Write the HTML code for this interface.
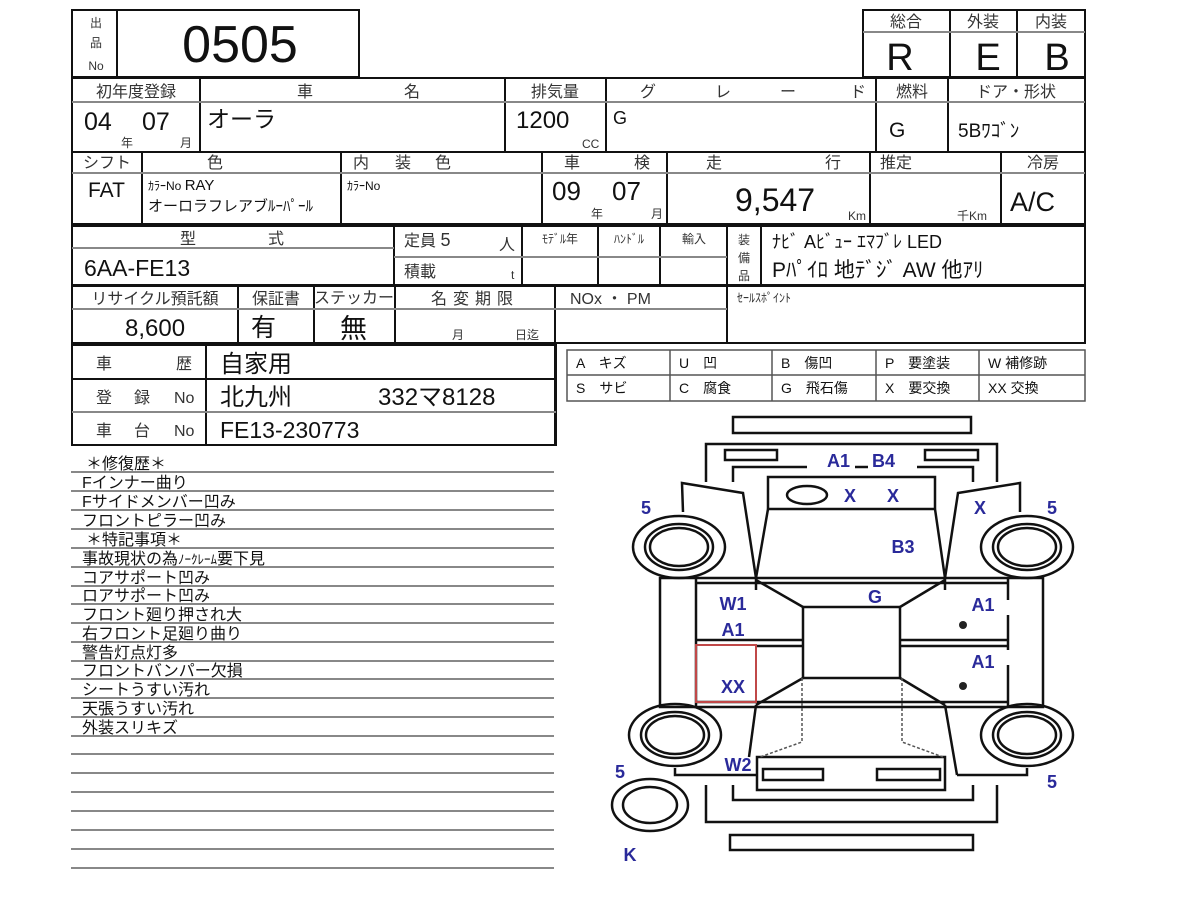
<!DOCTYPE html>
<html><head><meta charset="utf-8"><style>
html,body{margin:0;padding:0;background:#fff;}
svg{display:block;}
text{font-family:"Liberation Sans","Noto Sans CJK JP",sans-serif;fill:#111;}
.h{font-size:16px;fill:#333;}
.s{font-size:12px;fill:#333;}
.bl{fill:#2a2a9a;font-weight:bold;font-size:18px;}
</style></head><body>
<svg width="1200" height="900" viewBox="0 0 1200 900" xmlns="http://www.w3.org/2000/svg">
<g stroke="#111" stroke-width="2" fill="none">
<rect x="72" y="10" width="287" height="67"/>
<line x1="117" y1="10" x2="117" y2="77"/>
<rect x="863" y="10" width="222" height="67"/>
<line x1="950" y1="10" x2="950" y2="77"/>
<line x1="1017" y1="10" x2="1017" y2="77"/>
<rect x="72" y="78" width="1013" height="146"/>
<line x1="72" y1="152" x2="1085" y2="152"/>
<line x1="200" y1="78" x2="200" y2="152"/>
<line x1="505" y1="78" x2="505" y2="152"/>
<line x1="606" y1="78" x2="606" y2="152"/>
<line x1="876" y1="78" x2="876" y2="152"/>
<line x1="948" y1="78" x2="948" y2="152"/>
<line x1="142" y1="152" x2="142" y2="224"/>
<line x1="341" y1="152" x2="341" y2="224"/>
<line x1="542" y1="152" x2="542" y2="224"/>
<line x1="667" y1="152" x2="667" y2="224"/>
<line x1="870" y1="152" x2="870" y2="224"/>
<line x1="1001" y1="152" x2="1001" y2="224"/>
<rect x="72" y="226" width="1013" height="59"/>
<line x1="394" y1="226" x2="394" y2="285"/>
<line x1="522" y1="226" x2="522" y2="285"/>
<line x1="598" y1="226" x2="598" y2="285"/>
<line x1="660" y1="226" x2="660" y2="285"/>
<line x1="727" y1="226" x2="727" y2="285"/>
<line x1="761" y1="226" x2="761" y2="285"/>
<rect x="72" y="286" width="1013" height="57"/>
<line x1="238" y1="286" x2="238" y2="343"/>
<line x1="314" y1="286" x2="314" y2="343"/>
<line x1="395" y1="286" x2="395" y2="343"/>
<line x1="555" y1="286" x2="555" y2="445"/>
<line x1="727" y1="286" x2="727" y2="343"/>
<rect x="72" y="345" width="484" height="100"/>
<line x1="72" y1="379" x2="556" y2="379"/>
<line x1="206" y1="345" x2="206" y2="445"/>
</g>
<g stroke="#888" stroke-width="2">
<line x1="863" y1="32" x2="1085" y2="32"/>
<line x1="72" y1="102" x2="1085" y2="102"/>
<line x1="72" y1="173" x2="1085" y2="173"/>
<line x1="72" y1="248" x2="394" y2="248"/>
<line x1="394" y1="257" x2="727" y2="257"/>
<line x1="72" y1="309" x2="727" y2="309"/>
<line x1="72" y1="412" x2="556" y2="412"/>
</g>
<g stroke="#555" stroke-width="1.5" fill="none">
<rect x="567" y="350" width="518" height="51"/>
<line x1="567" y1="375" x2="1085" y2="375"/>
<line x1="670" y1="350" x2="670" y2="401"/>
<line x1="772" y1="350" x2="772" y2="401"/>
<line x1="876" y1="350" x2="876" y2="401"/>
<line x1="979" y1="350" x2="979" y2="401"/>
</g>
<g stroke="#888" stroke-width="2">
<line x1="71" y1="472" x2="554" y2="472"/><line x1="71" y1="491" x2="554" y2="491"/>
<line x1="71" y1="510" x2="554" y2="510"/><line x1="71" y1="529" x2="554" y2="529"/>
<line x1="71" y1="548" x2="554" y2="548"/><line x1="71" y1="567" x2="554" y2="567"/>
<line x1="71" y1="586" x2="554" y2="586"/><line x1="71" y1="604" x2="554" y2="604"/>
<line x1="71" y1="623" x2="554" y2="623"/><line x1="71" y1="642" x2="554" y2="642"/>
<line x1="71" y1="661" x2="554" y2="661"/><line x1="71" y1="679" x2="554" y2="679"/>
<line x1="71" y1="698" x2="554" y2="698"/><line x1="71" y1="717" x2="554" y2="717"/>
<line x1="71" y1="736" x2="554" y2="736"/><line x1="71" y1="754" x2="554" y2="754"/>
<line x1="71" y1="773" x2="554" y2="773"/><line x1="71" y1="792" x2="554" y2="792"/>
<line x1="71" y1="811" x2="554" y2="811"/><line x1="71" y1="830" x2="554" y2="830"/>
<line x1="71" y1="849" x2="554" y2="849"/><line x1="71" y1="868" x2="554" y2="868"/>
</g>

<text x="96" y="27" class="s" text-anchor="middle" font-size="13">出</text>
<text x="96" y="47" class="s" text-anchor="middle" font-size="13">品</text>
<text x="96" y="70" class="s" text-anchor="middle" font-size="13">No</text>
<text x="240" y="62" font-size="52" text-anchor="middle">0505</text>
<text x="906" y="27" class="h" font-size="14" text-anchor="middle">総合</text>
<text x="983" y="27" class="h" font-size="14" text-anchor="middle">外装</text>
<text x="1051" y="27" class="h" font-size="14" text-anchor="middle">内装</text>
<text x="900" y="70" font-size="38" text-anchor="middle">R</text>
<text x="988" y="70" font-size="38" text-anchor="middle">E</text>
<text x="1057" y="70" font-size="38" text-anchor="middle">B</text>

<text x="136" y="97" class="h" text-anchor="middle" font-size="17">初年度登録</text>
<text x="305" y="97" class="h" text-anchor="middle">車</text>
<text x="412" y="97" class="h" text-anchor="middle">名</text>
<text x="555" y="97" class="h" text-anchor="middle">排気量</text>
<text x="640" y="97" class="h">グ</text><text x="715" y="97" class="h">レ</text><text x="780" y="97" class="h">ー</text><text x="850" y="97" class="h">ド</text>
<text x="912" y="97" class="h" text-anchor="middle">燃料</text>
<text x="1016" y="97" class="h" text-anchor="middle" font-size="15">ドア・形状</text>
<text x="84" y="130" font-size="25">04</text>
<text x="121" y="147" class="s" font-size="10">年</text>
<text x="142" y="130" font-size="25">07</text>
<text x="180" y="147" class="s" font-size="10">月</text>
<text x="207" y="127" font-size="23">オーラ</text>
<text x="516" y="128" font-size="24">1200</text>
<text x="582" y="148" class="s" font-size="11">CC</text>
<text x="613" y="124" font-size="18">G</text>
<text x="889" y="137" font-size="21">G</text>
<text x="958" y="137" font-size="19">5Bﾜｺﾞﾝ</text>

<text x="107" y="168" class="h" text-anchor="middle" font-size="15">シフト</text>
<text x="215" y="168" class="h" text-anchor="middle">色</text>
<text x="353" y="168" class="h">内</text><text x="395" y="168" class="h">装</text><text x="435" y="168" class="h">色</text>
<text x="572" y="168" class="h" text-anchor="middle">車</text><text x="642" y="168" class="h" text-anchor="middle">検</text>
<text x="714" y="168" class="h" text-anchor="middle">走</text><text x="833" y="168" class="h" text-anchor="middle">行</text>
<text x="880" y="168" class="h">推定</text>
<text x="1043" y="168" class="h" text-anchor="middle">冷房</text>
<text x="88" y="197" font-size="21">FAT</text>
<text x="148" y="190" font-size="12">ｶﾗｰNo <tspan font-size="15">RAY</tspan></text>
<text x="148" y="211" font-size="15">オーロラフレアブ<tspan>ﾙｰﾊﾟｰﾙ</tspan></text>
<text x="347" y="190" font-size="12">ｶﾗｰNo</text>
<text x="552" y="200" font-size="26">09</text>
<text x="591" y="218" class="s" font-size="10">年</text>
<text x="612" y="200" font-size="26">07</text>
<text x="651" y="218" class="s" font-size="10">月</text>
<text x="735" y="211" font-size="32">9,547</text>
<text x="848" y="220" class="s" font-size="10">Km</text>
<text x="957" y="220" class="s" font-size="10">千Km</text>
<text x="1010" y="211" font-size="27">A/C</text>

<text x="180" y="244" class="h">型</text><text x="268" y="244" class="h">式</text>
<text x="84" y="276" font-size="23">6AA-FE13</text>
<text x="404" y="246" class="h" font-size="15">定員 <tspan font-size="18">5</tspan></text>
<text x="499" y="250" class="h" font-size="14">人</text>
<text x="404" y="277" class="h" font-size="13">積載</text>
<text x="511" y="279" class="s" font-size="10">t</text>
<text x="560" y="243" class="s" text-anchor="middle" font-size="12">ﾓﾃﾞﾙ年</text>
<text x="629" y="243" class="s" text-anchor="middle" font-size="12">ﾊﾝﾄﾞﾙ</text>
<text x="694" y="243" class="s" text-anchor="middle" font-size="14">輸入</text>
<text x="744" y="244" class="s" text-anchor="middle" font-size="13">装</text>
<text x="744" y="262" class="s" text-anchor="middle" font-size="13">備</text>
<text x="744" y="280" class="s" text-anchor="middle" font-size="13">品</text>
<text x="772" y="248" font-size="18">ﾅﾋﾞ Aﾋﾞｭｰ ｴﾏﾌﾞﾚ LED</text>
<text x="772" y="277" font-size="21">Pﾊﾟｲﾛ 地ﾃﾞｼﾞ AW 他ｱﾘ</text>

<text x="155" y="304" class="h" text-anchor="middle" font-size="14">リサイクル預託額</text>
<text x="276" y="304" class="h" text-anchor="middle" font-size="14">保証書</text>
<text x="354" y="303" class="h" text-anchor="middle" font-size="11">ステッカー</text>
<text x="475" y="304" class="h" text-anchor="middle" font-size="15" letter-spacing="6">名変期限</text>
<text x="570" y="304" class="h" font-size="14">NOx ・ PM</text>
<text x="737" y="302" class="s" font-size="11">ｾｰﾙｽﾎﾟｲﾝﾄ</text>
<text x="125" y="336" font-size="24">8,600</text>
<text x="251" y="336" font-size="25">有</text>
<text x="340" y="338" font-size="27">無</text>
<text x="452" y="339" class="s" font-size="11">月</text>
<text x="515" y="339" class="s" font-size="11">日迄</text>

<text x="96" y="369" class="h">車</text><text x="176" y="369" class="h">歴</text>
<text x="220" y="372" font-size="24">自家用</text>
<text x="96" y="403" class="h">登</text><text x="134" y="403" class="h">録</text><text x="174" y="403" class="h" font-size="13">No</text>
<text x="220" y="405" font-size="24">北九州</text>
<text x="378" y="405" font-size="24">332マ8128</text>
<text x="96" y="436" class="h">車</text><text x="134" y="436" class="h">台</text><text x="174" y="436" class="h" font-size="13">No</text>
<text x="220" y="438" font-size="23">FE13-230773</text>

<g font-size="14">
<text x="576" y="368">A　キズ</text><text x="679" y="368">U　凹</text><text x="781" y="368">B　傷凹</text><text x="885" y="368">P　要塗装</text><text x="988" y="368">W 補修跡</text>
<text x="576" y="393">S　サビ</text><text x="679" y="393">C　腐食</text><text x="781" y="393">G　飛石傷</text><text x="885" y="393">X　要交換</text><text x="988" y="393">XX 交換</text>
</g>

<g font-size="16" fill="#222">
<text x="86" y="469">＊修復歴＊</text>
<text x="82" y="488">Fインナー曲り</text>
<text x="82" y="507">Fサイドメンバー凹み</text>
<text x="82" y="526">フロントピラー凹み</text>
<text x="86" y="545">＊特記事項＊</text>
<text x="82" y="564">事故現状の為<tspan font-size="13">ﾉｰｸﾚｰﾑ</tspan>要下見</text>
<text x="82" y="583">コアサポート凹み</text>
<text x="82" y="601">ロアサポート凹み</text>
<text x="82" y="620">フロント廻り押され大</text>
<text x="82" y="639">右フロント足廻り曲り</text>
<text x="82" y="658">警告灯点灯多</text>
<text x="82" y="676">フロントバンパー欠損</text>
<text x="82" y="695">シートうすい汚れ</text>
<text x="82" y="714">天張うすい汚れ</text>
<text x="82" y="733">外装スリキズ</text>
</g>

<g stroke="#111" stroke-width="2.5" fill="none">
<rect x="733" y="417" width="238" height="16"/>
<polyline points="706,482 706,444 997,444 997,482"/>
<polyline points="733,482 733,467 807,467"/>
<polyline points="917,467 973,467 973,482"/>
<line x1="855" y1="467" x2="868" y2="467"/>
<rect x="725" y="450" width="52" height="10"/>
<rect x="925" y="450" width="53" height="10"/>
<polyline points="768,509 768,477 935,477 935,509"/>
<line x1="768" y1="509" x2="935" y2="509"/>
<ellipse cx="807" cy="495" rx="20" ry="9"/>
<line x1="768" y1="509" x2="756" y2="578"/>
<line x1="935" y1="509" x2="945" y2="578"/>
<polyline points="683,512 682,483 743,493 756,578"/>
<polyline points="1020,512 1020,483 958,493 945,578"/>
<ellipse cx="679" cy="547" rx="46" ry="31"/>
<ellipse cx="679" cy="547" rx="34" ry="23"/>
<ellipse cx="679" cy="547" rx="29" ry="19"/>
<ellipse cx="1027" cy="547" rx="46" ry="31"/>
<ellipse cx="1027" cy="547" rx="34" ry="23"/>
<ellipse cx="1027" cy="547" rx="29" ry="19"/>
<ellipse cx="675" cy="735" rx="46" ry="31"/>
<ellipse cx="675" cy="735" rx="34" ry="23"/>
<ellipse cx="675" cy="735" rx="29" ry="19"/>
<ellipse cx="1027" cy="735" rx="46" ry="31"/>
<ellipse cx="1027" cy="735" rx="34" ry="23"/>
<ellipse cx="1027" cy="735" rx="29" ry="19"/>
<ellipse cx="650" cy="805" rx="38" ry="26"/>
<ellipse cx="650" cy="805" rx="27" ry="18"/>
<rect x="660" y="578" width="383" height="129"/>
<line x1="696" y1="583" x2="1008" y2="583"/>
<line x1="696" y1="702" x2="1008" y2="702"/>
<line x1="696" y1="578" x2="696" y2="707"/>
<line x1="1008" y1="578" x2="1008" y2="600"/>
<line x1="1008" y1="615" x2="1008" y2="650"/>
<line x1="1008" y1="665" x2="1008" y2="707"/>
<line x1="696" y1="640" x2="803" y2="640"/>
<line x1="756" y1="646" x2="803" y2="646"/>
<line x1="900" y1="640" x2="1008" y2="640"/>
<line x1="900" y1="646" x2="1008" y2="646"/>
<rect x="803" y="607" width="97" height="71"/>
<line x1="803" y1="607" x2="756" y2="580"/>
<line x1="900" y1="607" x2="945" y2="580"/>
<line x1="803" y1="678" x2="756" y2="705"/>
<line x1="900" y1="678" x2="945" y2="705"/>
<line x1="756" y1="705" x2="749" y2="757"/>
<line x1="945" y1="705" x2="957" y2="775"/>
<line x1="756" y1="578" x2="756" y2="590"/>
<line x1="945" y1="578" x2="945" y2="590"/>
<rect x="757" y="757" width="188" height="33"/>
<rect x="763" y="769" width="60" height="11"/>
<rect x="877" y="769" width="63" height="11"/>
<polyline points="675,768 675,775 756,775"/>
<polyline points="957,775 1027,775 1027,768"/>
<polyline points="706,785 706,822 997,822 997,785"/>
<polyline points="733,785 733,800 973,800 973,785"/>
<rect x="730" y="835" width="243" height="15"/>
</g>
<g stroke="#555" stroke-width="1.5" stroke-dasharray="3,2" fill="none">
<polyline points="802,678 802,742 760,757"/>
<polyline points="902,678 902,742 943,757"/>
</g>
<rect x="696" y="645" width="60" height="57" stroke="#c04848" stroke-width="2" fill="none"/>
<g class="bl">
<text x="827" y="467" class="bl">A1</text>
<text x="872" y="467" class="bl">B4</text>
<text x="850" y="502" class="bl" text-anchor="middle">X</text>
<text x="893" y="502" class="bl" text-anchor="middle">X</text>
<text x="646" y="514" class="bl" text-anchor="middle">5</text>
<text x="1052" y="514" class="bl" text-anchor="middle">5</text>
<text x="980" y="514" class="bl" text-anchor="middle">X</text>
<text x="903" y="553" class="bl" text-anchor="middle">B3</text>
<text x="733" y="610" class="bl" text-anchor="middle">W1</text>
<text x="875" y="603" class="bl" text-anchor="middle">G</text>
<text x="983" y="611" class="bl" text-anchor="middle">A1</text>
<text x="733" y="636" class="bl" text-anchor="middle">A1</text>
<text x="983" y="668" class="bl" text-anchor="middle">A1</text>
<text x="733" y="693" class="bl" text-anchor="middle">XX</text>
<text x="738" y="771" class="bl" text-anchor="middle">W2</text>
<text x="620" y="778" class="bl" text-anchor="middle">5</text>
<text x="1052" y="788" class="bl" text-anchor="middle">5</text>
<text x="630" y="861" class="bl" text-anchor="middle">K</text>
</g>
<circle cx="963" cy="625" r="4" fill="#222"/>
<circle cx="963" cy="686" r="4" fill="#222"/>
</svg>
</body></html>
